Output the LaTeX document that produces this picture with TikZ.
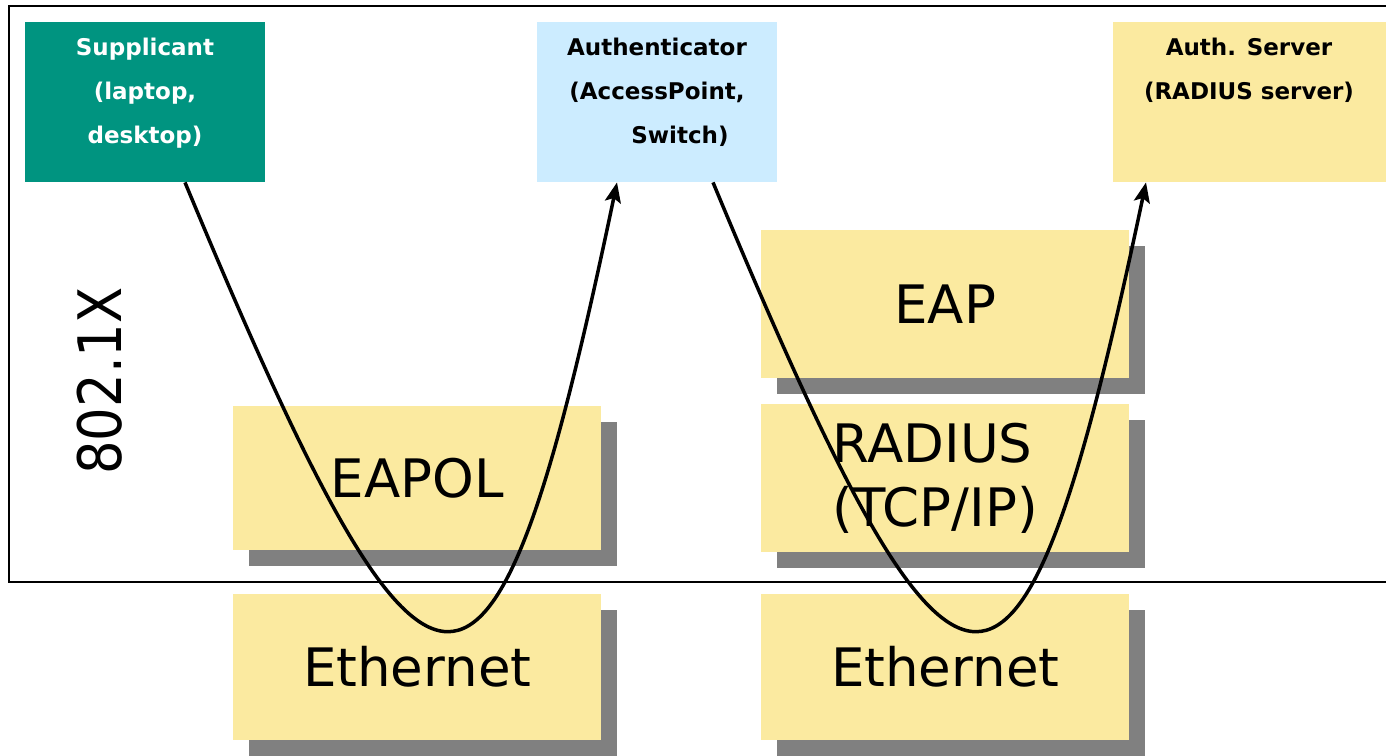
\documentclass[tikz,border=0pt]{standalone}
\usepackage{fontspec}
\newfontfamily\dvsans{DejaVu Sans}
\usetikzlibrary{calc,shadows,arrows.meta}
\definecolor{suppteal}{RGB}{0,148,128}
\definecolor{authblue}{RGB}{204,236,255}
\definecolor{layeryel}{RGB}{251,234,160}
\definecolor{shadowgray}{RGB}{128,128,128}
\tikzset{
  box/.style={rectangle, inner sep=0pt, anchor=north west},
  layer/.style={box, fill=layeryel, minimum width=368pt, minimum height=146pt,
    general shadow={fill=shadowgray, shadow xshift=16pt, shadow yshift=-16pt},
    font=\dvsans\fontsize{53}{64}\selectfont},
  lbl/.style={anchor=base, font=\dvsans\bfseries\fontsize{23}{26}\selectfont},
  conn/.style={line width=3.5pt, -{Stealth[length=20pt,width=16pt,inset=4pt]}},
  frameline/.style={line width=2.5pt}
}
\begin{document}
\begin{tikzpicture}[x=1pt,y=-1pt]
\useasboundingbox (0,0) rectangle (1386,755);
% frame
\draw[frameline] (1386,6) -- (9,6) -- (9,582) -- (1386,582);
% top boxes
\node[box, fill=suppteal, minimum width=240pt, minimum height=160pt] (sup) at (25,22) {};
\node[box, fill=authblue, minimum width=240pt, minimum height=160pt] (auth) at (537,22) {};
\node[box, fill=layeryel, minimum width=273pt, minimum height=160pt] (srv) at (1113,22) {};
% labels
\node[lbl, text=white] (sup1) at (145,55) {Supplicant};
\node[lbl, text=white] (sup2) at (145,99) {(laptop,};
\node[lbl, text=white] (sup3) at (145,143) {desktop)};
\node[lbl] (auth1) at (657,55) {Authenticator};
\node[lbl] (auth2) at (657,99) {(AccessPoint,};
\node[lbl] (auth3) at (680,143) {Switch)};
\node[lbl] (srv1) at (1249,55) {Auth. Server};
\node[lbl] (srv2) at (1249,99) {(RADIUS server)};
% layers
\node[layer, minimum height=144pt] (eapol) at (233,406) {EAPOL};
\node[layer] (ethl) at (233,594) {Ethernet};
\node[layer, minimum height=148pt] (eap) at (761,230) {EAP};
\node[layer, minimum height=148pt, align=left] (radius) at (761,404) {RADIUS\\(TCP/IP)\hspace*{20pt}};
\node[layer] (ethr) at (761,594) {Ethernet};
% 802.1X
\node[rotate=90, font=\dvsans\fontsize{60}{70}\selectfont] (std) at (100,381) {\scalebox{0.88}[1]{802.1X}};
% connectors
\draw[conn] ($(sup.south west)+(160,0)$) .. controls (433,779) and (492,779) .. ($(auth.south west)+(80,0)$);
\draw[conn] ($(auth.south west)+(176,0)$) .. controls (961,779) and (1020,779) .. ($(srv.south west)+(33,0)$);
\end{tikzpicture}
\end{document}
